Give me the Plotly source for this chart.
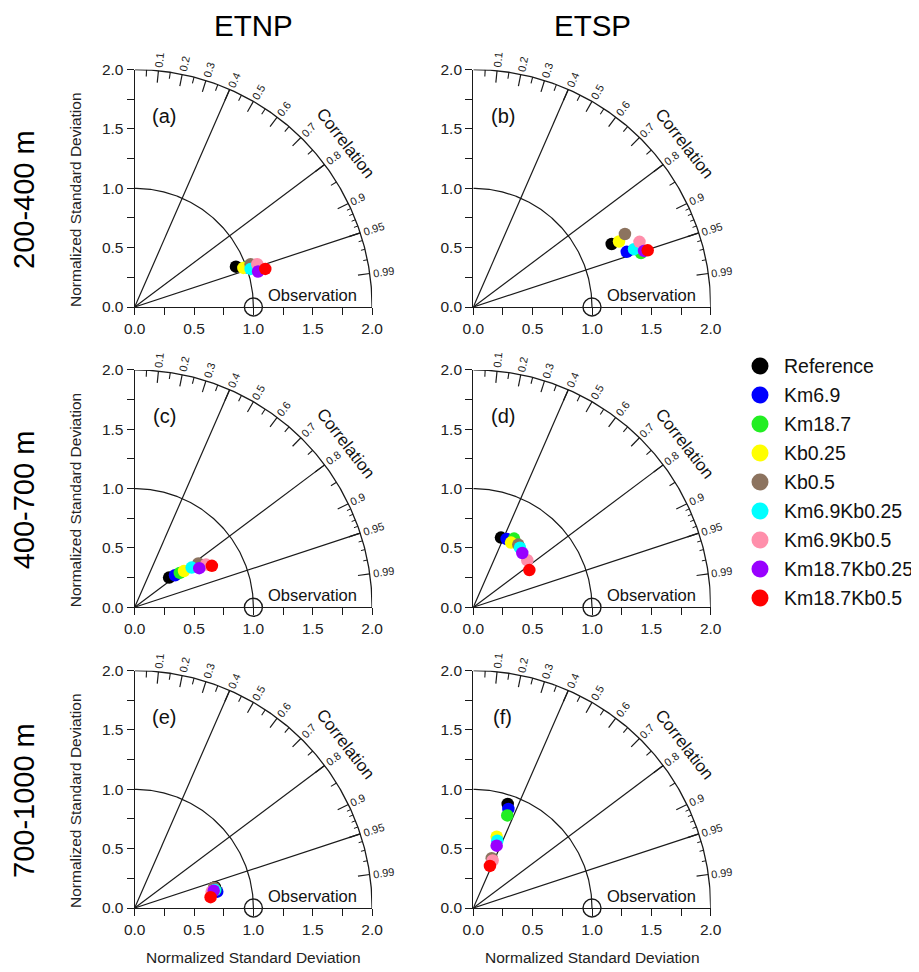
import numpy as np
import plotly.graph_objects as go

# ---------------- data ----------------
models = ["Reference", "Km6.9", "Km18.7", "Kb0.25", "Kb0.5",
          "Km6.9Kb0.25", "Km6.9Kb0.5", "Km18.7Kb0.25", "Km18.7Kb0.5"]
colors = ["#000000", "#0000FF", "#22EE22", "#FFFF00", "#8C735F",
          "#00FFFF", "#FF8FAB", "#9900FF", "#FF0000"]

regions = ["ETNP", "ETSP"]
depths = ["200-400 m", "400-700 m", "700-1000 m"]
letters = ["(a)", "(b)", "(c)", "(d)", "(e)", "(f)"]

# normalized standard deviation and correlation per panel (a..f)
std_a = [0.918, 1.006, 1.020, 0.973, 1.041, 1.028, 1.094, 1.082, 1.146]
corr_a = [0.929, 0.944, 0.941, 0.941, 0.938, 0.950, 0.944, 0.961, 0.960]
std_b = [1.281, 1.374, 1.484, 1.346, 1.418, 1.439, 1.504, 1.514, 1.545]
corr_b = [0.910, 0.941, 0.952, 0.912, 0.901, 0.941, 0.931, 0.950, 0.951]
std_c = [0.383, 0.434, 0.478, 0.515, 0.651, 0.585, 0.700, 0.636, 0.738]
corr_c = [0.757, 0.783, 0.795, 0.806, 0.823, 0.820, 0.858, 0.855, 0.881]
std_d = [0.632, 0.640, 0.673, 0.631, 0.650, 0.638, 0.603, 0.616, 0.567]
corr_d = [0.369, 0.439, 0.510, 0.504, 0.583, 0.616, 0.754, 0.670, 0.833]
std_e = [0.698, 0.709, 0.696, 0.689, 0.689, 0.692, 0.663, 0.681, 0.646]
corr_e = [0.968, 0.981, 0.976, 0.973, 0.969, 0.976, 0.978, 0.977, 0.990]
std_f = [0.923, 0.885, 0.831, 0.632, 0.447, 0.602, 0.432, 0.561, 0.381]
corr_f = [0.314, 0.334, 0.344, 0.312, 0.347, 0.336, 0.377, 0.351, 0.368]

panel_std = [std_a, std_b, std_c, std_d, std_e, std_f]
panel_corr = [corr_a, corr_b, corr_c, corr_d, corr_e, corr_f]

corr_major = [0.1, 0.2, 0.3, 0.4, 0.5, 0.6, 0.7, 0.8, 0.9, 0.95, 0.99]
corr_major_labels = ["0.1", "0.2", "0.3", "0.4", "0.5", "0.6", "0.7", "0.8", "0.9", "0.95", "0.99"]
corr_minor = [0.05, 0.15, 0.25, 0.35, 0.45, 0.55, 0.65, 0.75, 0.85]
corr_fine = [0.91, 0.92, 0.93, 0.94, 0.96, 0.97, 0.98]
radial_corr = [0.4, 0.8, 0.95]
axis_tickvals = [0, 0.25, 0.5, 0.75, 1.0, 1.25, 1.5, 1.75, 2.0]
axis_ticktext = ["0.0", "", "0.5", "", "1.0", "", "1.5", "", "2.0"]

# ---------------- layout geometry (window pixels) ----------------
W, H = 919, 972
OFF = 8  # page body margin
SCALE = 118.7
col_x0 = [134.7, 473.3]
row_y0 = [307.0, 607.3, 908.0]
FONT = "Liberation Sans, Arial, Helvetica, sans-serif"
LC = "#1a1a1a"


def pxp(x):
    return (x - OFF) / W


def pyp(y):
    return 1 - (y - OFF) / H


fig = go.Figure()
annotations = []
layout = dict(width=W, height=H, margin=dict(l=0, r=0, t=0, b=0, autoexpand=False),
              paper_bgcolor="white", plot_bgcolor="white",
              showlegend=False, font=dict(family=FONT, color="black"))


def arc(r, c0=0.0, c1=1.0, n=200):
    th = np.linspace(np.arccos(c1), np.arccos(c0), n)
    return list(r * np.cos(th)), list(r * np.sin(th))


def ticks(cs, length):
    xs, ys = [], []
    for c in cs:
        th = np.arccos(c)
        xs += [2 * np.cos(th), (2 - length) * np.cos(th), None]
        ys += [2 * np.sin(th), (2 - length) * np.sin(th), None]
    return xs, ys


for k in range(6):
    row, col = divmod(k, 2)
    x0p, y0p = col_x0[col], row_y0[row]
    xd = [pxp(x0p), pxp(x0p + 2 * SCALE)]
    yd = [pyp(y0p), pyp(y0p - 2 * SCALE)]

    def to_paper(x, y):
        return pxp(x0p + x * SCALE), pyp(y0p - y * SCALE)

    sfx = "" if k == 0 else str(k + 1)
    xr, yr = "x" + sfx, "y" + sfx
    common = dict(range=[0, 2], showgrid=False, zeroline=False, showline=True,
                  linecolor=LC, linewidth=1.3, ticks="outside", ticklen=7,
                  tickwidth=1.2, tickcolor=LC, tickvals=axis_tickvals,
                  ticktext=axis_ticktext, tickfont=dict(size=15.5, family=FONT, color="#222"),
                  fixedrange=True, automargin=False)
    layout["xaxis" + sfx] = dict(domain=xd, anchor=yr, **common)
    layout["yaxis" + sfx] = dict(domain=yd, anchor=xr, **common)

    # outer arc and reference arc
    ax_, ay_ = arc(2.0)
    fig.add_trace(go.Scatter(x=ax_, y=ay_, mode="lines", line=dict(color=LC, width=1.3),
                             xaxis=xr, yaxis=yr, hoverinfo="skip"))
    bx_, by_ = arc(1.0)
    fig.add_trace(go.Scatter(x=bx_, y=by_, mode="lines", line=dict(color=LC, width=1.2),
                             xaxis=xr, yaxis=yr, hoverinfo="skip"))
    # radial lines
    rx, ry = [], []
    for c in radial_corr:
        th = np.arccos(c)
        rx += [0, 2 * np.cos(th), None]
        ry += [0, 2 * np.sin(th), None]
    fig.add_trace(go.Scatter(x=rx, y=ry, mode="lines", line=dict(color=LC, width=1.2),
                             xaxis=xr, yaxis=yr, hoverinfo="skip"))
    # correlation ticks
    for cs, L, w in [(corr_major, 0.1, 1.2), (corr_minor, 0.055, 1.1), (corr_fine, 0.035, 1.0)]:
        tx, ty = ticks(cs, L)
        fig.add_trace(go.Scatter(x=tx, y=ty, mode="lines", line=dict(color=LC, width=w),
                                 xaxis=xr, yaxis=yr, hoverinfo="skip"))
    # correlation tick labels
    fs = 11
    for c, lab in zip(corr_major, corr_major_labels):
        th = np.arccos(c)
        wpx = fs * (0.556 * (len(lab) - 1) + 0.278)
        rc = 2.0 + (3 + wpx / 2) / SCALE
        px, py = to_paper(rc * np.cos(th), rc * np.sin(th))
        annotations.append(dict(x=px, y=py, xref="paper", yref="paper",
                                text=lab, showarrow=False, textangle=-np.degrees(th),
                                xanchor="center", yanchor="middle",
                                font=dict(size=fs, family=FONT, color="#222")))
    # "Correlation" label
    thc = np.radians(37.8)
    px, py = to_paper(2.25 * np.cos(thc), 2.25 * np.sin(thc))
    annotations.append(dict(x=px, y=py, xref="paper", yref="paper",
                            text="Correlation", showarrow=False, textangle=90 - 37.8,
                            xanchor="center", yanchor="middle",
                            font=dict(size=17, family=FONT, color="#111")))
    # panel letter
    annotations.append(dict(x=0.25, y=1.61, xref=xr, yref=yr, text=letters[k], showarrow=False,
                            xanchor="center", yanchor="middle",
                            font=dict(size=20, family=FONT, color="#111")))
    # Observation label
    annotations.append(dict(x=1.11, y=0.10, xref=xr, yref=yr, text="Observation", showarrow=False,
                            xanchor="left", yanchor="middle",
                            font=dict(size=16.5, family=FONT, color="#111")))
    # model points
    for m, c, s, r in zip(models, colors, panel_std[k], panel_corr[k]):
        th = np.arccos(r)
        fig.add_trace(go.Scatter(x=[s * np.cos(th)], y=[s * np.sin(th)], mode="markers",
                                 name=m, marker=dict(color=c, size=12.5, line=dict(width=0)),
                                 xaxis=xr, yaxis=yr, cliponaxis=False))
    # observation circle
    fig.add_trace(go.Scatter(x=[1.0], y=[0.0], mode="markers",
                             marker=dict(symbol="circle-open", size=18, color=LC,
                                         line=dict(width=1.4, color=LC)),
                             xaxis=xr, yaxis=yr, cliponaxis=False, hoverinfo="skip"))

# column titles
for col, name in enumerate(regions):
    xc = pxp(col_x0[col] + SCALE)
    annotations.append(dict(x=xc, y=pyp(25), xref="paper", yref="paper", text=name,
                            showarrow=False, xanchor="center", yanchor="middle",
                            font=dict(size=29.5, family=FONT, color="black")))
    annotations.append(dict(x=xc, y=pyp(957), xref="paper", yref="paper",
                            text="Normalized Standard Deviation", showarrow=False,
                            xanchor="center", yanchor="middle",
                            font=dict(size=15.5, family=FONT, color="#222")))
# row labels and y titles
for row, name in enumerate(depths):
    yc = pyp(row_y0[row] - 107)
    annotations.append(dict(x=pxp(24), y=yc, xref="paper", yref="paper", text=name,
                            showarrow=False, textangle=-90, xanchor="center", yanchor="middle",
                            font=dict(size=29, family=FONT, color="black")))
    annotations.append(dict(x=pxp(75), y=yc, xref="paper", yref="paper",
                            text="Normalized Standard Deviation", showarrow=False,
                            textangle=-90, xanchor="center", yanchor="middle",
                            font=dict(size=15.5, family=FONT, color="#222")))

# legend (own axis, pixel-like units)
layout["xaxis7"] = dict(domain=[pxp(750), pxp(919)], range=[0, 169], visible=False, anchor="y7",
                        fixedrange=True, automargin=False)
layout["yaxis7"] = dict(domain=[pyp(615), pyp(350)], range=[265, 0], visible=False,
                        anchor="x7", fixedrange=True, automargin=False)
for i, (m, c) in enumerate(zip(models, colors)):
    yy = 16 + 29 * i
    fig.add_trace(go.Scatter(x=[10], y=[yy], mode="markers", marker=dict(color=c, size=17),
                             xaxis="x7", yaxis="y7", cliponaxis=False, hoverinfo="skip"))
    annotations.append(dict(x=32, y=yy, xref="x7", yref="y7", text=m, showarrow=False,
                            xanchor="left", yanchor="middle",
                            font=dict(size=19.5, family=FONT, color="#111")))

layout["annotations"] = annotations
fig.update_layout(**layout)
fig.write_html("out.html")
